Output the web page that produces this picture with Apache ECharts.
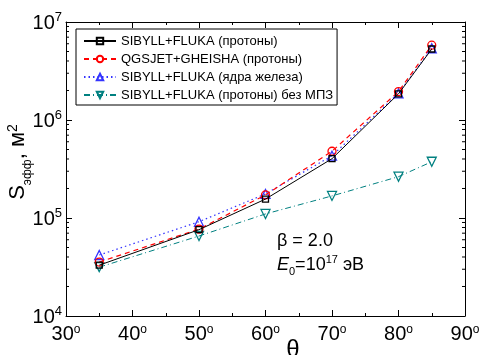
<!DOCTYPE html>
<html><head><meta charset="utf-8">
<script src="https://cdn.jsdelivr.net/npm/echarts@6/dist/echarts.min.js"></script>
<style>html,body{margin:0;padding:0;background:#fff}#c{width:480px;height:355px}</style>
</head><body><div id="c"></div>
<script>
const angles = [35, 50, 60, 70, 80, 85];
const sibyllProton = [33000, 76000, 156000, 403000, 1850000, 5300000];
const qgsjetProton = [35500, 77000, 172000, 480000, 1950000, 5800000];
const sibyllIron = [41900, 91600, 176000, 432000, 1870000, 5400000];
const sibyllNoField = [31500, 65500, 110000, 168000, 264000, 375000];
const seriesNames = [
  'SIBYLL+FLUKA (протоны)',
  'QGSJET+GHEISHA (протоны)',
  'SIBYLL+FLUKA (ядра железа)',
  'SIBYLL+FLUKA (протоны) без МПЗ'
];
const xMin = 30, xMax = 90, xStep = 10;
const yMin = 1e4, yMax = 1e7;

const FONT = "'Liberation Sans', Arial, sans-serif";
const yMinor = [];
for (let e = 4; e < 7; e++) for (let m = 2; m <= 9; m++) yMinor.push(m * Math.pow(10, e));

const chart = echarts.init(document.getElementById('c'), null, {renderer: 'canvas'});

function mkSeries(name, data, color, lineType, symbol, symbolSize, rotate, z, lw) {
  return {
    name, type: 'line', data: angles.map((a, i) => [a, data[i]]),
    symbol, symbolSize, symbolRotate: rotate || 0, showAllSymbol: true, z,
    lineStyle: {color, width: lw || 1, type: lineType},
    itemStyle: {color: 'rgba(255,255,255,0)', borderColor: color, borderWidth: 1.3},
    emphasis: {disabled: true}, animation: false
  };
}

const option = {
  animation: false,
  textStyle: {fontFamily: FONT},
  grid: {left: 66, right: 15, top: 22, bottom: 39, show: false, containLabel: false, outerBoundsMode: 'none'},
  legend: {
    left: 76, top: 29, orient: 'vertical',
    data: seriesNames,
    borderColor: '#000', borderWidth: 1, borderRadius: 0,
    padding: [5, 4, 3, 7], itemGap: 4, itemWidth: 32, itemHeight: 8,
    textStyle: {fontSize: 13, fontFamily: FONT, color: '#000', lineHeight: 14},
    backgroundColor: '#fff', z: 10
  },
  xAxis: [{
    type: 'value', min: xMin, max: xMax, interval: xStep,
    axisLine: {show: true, lineStyle: {color: '#000', width: 1}},
    axisTick: {inside: true, length: 6, lineStyle: {color: '#000'}},
    minorTick: {show: true, splitNumber: 2, length: 3, lineStyle: {color: '#000'}},
    splitLine: {show: false},
    axisLabel: {
      margin: 8,
      formatter: v => '{n|' + v + '}{d|o}',
      rich: {
        n: {fontSize: 20, fontFamily: FONT, color: '#000', verticalAlign: 'bottom', lineHeight: 20},
        d: {fontSize: 12, fontFamily: FONT, color: '#000', verticalAlign: 'top', lineHeight: 12}
      }
    }
  }, {
    type: 'value', min: xMin, max: xMax, interval: xStep, position: 'top',
    axisLine: {show: true, lineStyle: {color: '#000', width: 1}},
    axisTick: {inside: true, length: 6, lineStyle: {color: '#000'}},
    minorTick: {show: true, splitNumber: 2, length: 3, lineStyle: {color: '#000'}},
    splitLine: {show: false}, axisLabel: {show: false}
  }],
  yAxis: [{
    type: 'log', logBase: 10, min: yMin, max: yMax,
    axisLine: {show: true, lineStyle: {color: '#000', width: 1}},
    axisTick: {inside: true, length: 6, lineStyle: {color: '#000'}},
    splitLine: {show: false},
    axisLabel: {
      margin: 4,
      formatter: v => '{b|10}{s|' + Math.round(Math.log10(v)) + '}',
      rich: {
        b: {fontSize: 20, fontFamily: FONT, color: '#000', verticalAlign: 'bottom', lineHeight: 22},
        s: {fontSize: 13, fontFamily: FONT, color: '#000', verticalAlign: 'top', lineHeight: 13}
      }
    }
  }, {
    type: 'log', logBase: 10, min: yMin, max: yMax, position: 'right',
    axisLine: {show: true, lineStyle: {color: '#000', width: 1}},
    axisTick: {inside: true, length: 6, lineStyle: {color: '#000'}},
    splitLine: {show: false}, axisLabel: {show: false}
  }],
  graphic: [
    {
      type: 'text', x: 18, y: 162, rotation: Math.PI / 2,
      style: {
        text: '{a|S}{sub|эфф}{a|, м}{sup|2}',
        align: 'center', verticalAlign: 'middle',
        rich: {
          a: {fontSize: 22, fontFamily: FONT, fill: '#000', verticalAlign: 'middle', lineHeight: 24},
          sub: {fontSize: 12, fontFamily: FONT, fill: '#000', verticalAlign: 'bottom', lineHeight: 12, padding: [0, 0, -4, 0]},
          sup: {fontSize: 14, fontFamily: FONT, fill: '#000', verticalAlign: 'top', lineHeight: 14, padding: [0, 0, 8, 0]}
        }
      }
    },
    {
      type: 'text', x: 293, y: 350,
      style: {text: 'θ', font: '24px ' + FONT, fill: '#000', align: 'center', verticalAlign: 'middle'}
    },
    {
      type: 'text', left: 277, top: 232,
      style: {text: 'β = 2.0', font: '18px ' + FONT, fill: '#000'}
    },
    {
      type: 'text', left: 277, top: 254,
      style: {
        text: '{i|E}{sub|0}{n|=10}{sup|17}{n| эВ}',
        rich: {
          i: {fontSize: 18, fontStyle: 'italic', fontFamily: FONT, fill: '#000', verticalAlign: 'bottom', lineHeight: 20},
          n: {fontSize: 18, fontFamily: FONT, fill: '#000', verticalAlign: 'bottom', lineHeight: 20},
          sub: {fontSize: 11, fontFamily: FONT, fill: '#000', verticalAlign: 'bottom', lineHeight: 11, padding: [0, 0, -3, 0]},
          sup: {fontSize: 11, fontFamily: FONT, fill: '#000', verticalAlign: 'top', lineHeight: 11}
        }
      }
    }
  ],
  series: [
    mkSeries(seriesNames[3], sibyllNoField, '#008080', [6, 3, 1, 3], 'triangle', 9, 180, 2, 1),
    mkSeries(seriesNames[2], sibyllIron, '#3333ff', [1.5, 3], 'triangle', 9, 0, 3, 1.2),
    mkSeries(seriesNames[1], qgsjetProton, '#ff0000', [5, 4], 'circle', 8, 0, 4, 1.2),
    mkSeries(seriesNames[0], sibyllProton, '#000000', 'solid', 'rect', 6, 0, 5, 1),
    {
      type: 'custom', silent: true, z: 6,
      data: yMinor.map(v => [xMin, v]),
      encode: {x: 0, y: 1},
      renderItem: (params, api) => {
        const v = api.value(1);
        const pL = api.coord([xMin, v]);
        const pR = api.coord([xMax, v]);
        return {type: 'group', children: [
          {type: 'line', shape: {x1: pL[0], y1: pL[1], x2: pL[0] + 3, y2: pL[1]}, style: {stroke: '#000', lineWidth: 1}},
          {type: 'line', shape: {x1: pR[0], y1: pR[1], x2: pR[0] - 3, y2: pR[1]}, style: {stroke: '#000', lineWidth: 1}}
        ]};
      }
    }
  ]
};
chart.setOption(option);
</script>
</body></html>
